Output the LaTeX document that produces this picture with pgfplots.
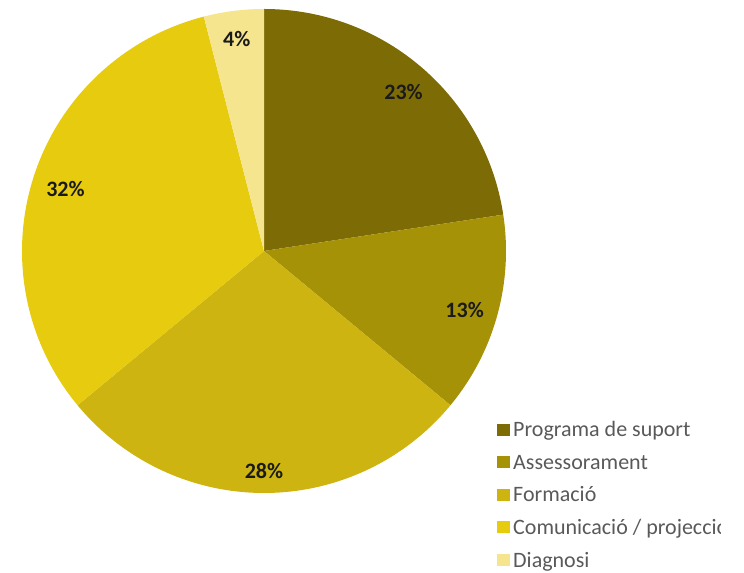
\documentclass[border=0pt]{standalone}
\usepackage{pgfplots}
\pgfplotsset{compat=1.18}
\usepackage{pgfplotstable}
\usepackage{fontspec}
\setmainfont{Carlito}

\definecolor{sliceA}{HTML}{7D6C06}
\definecolor{sliceB}{HTML}{A69207}
\definecolor{sliceC}{HTML}{CDB410}
\definecolor{sliceD}{HTML}{E6CB0F}
\definecolor{sliceE}{HTML}{F5E58E}
\definecolor{legendgrey}{HTML}{595959}
\definecolor{labelblack}{HTML}{1A1A1A}

% share of each slice (%), clockwise from 12 o'clock
\pgfplotstableread{
value colour
22.6  sliceA
13.4  sliceB
28.0  sliceC
32.0  sliceD
4.0   sliceE
}\piedata

\begin{document}
\begin{tikzpicture}
\begin{axis}[
  scale only axis,
  width=744bp, height=573bp,
  xmin=0, xmax=744, ymin=0, ymax=573,
  hide axis,
]
\pgfplotsextra{%
  \gdef\startang{90}%
  \foreach \i in {0,...,4}{%
    \pgfplotstablegetelem{\i}{value}\of\piedata \let\v\pgfplotsretval
    \pgfplotstablegetelem{\i}{colour}\of\piedata \let\c\pgfplotsretval
    \pgfmathsetmacro\endang{\startang-3.6*\v}%
    \pgfmathsetmacro\midang{(\startang+\endang)/2}%
    \pgfmathsetmacro\rr{205+12*abs(sin(\midang))}%
    \pgfmathtruncatemacro\lab{round(\v)}%
    \fill[\c] (axis cs:264,322) -- (axis cs:{264+242*cos(\startang)},{322+242*sin(\startang)})
      arc[start angle=\startang, end angle=\endang, radius=242bp] -- cycle;
    \node[text=labelblack, font=\fontsize{22bp}{26bp}\selectfont\bfseries]
      at (axis cs:{264+\rr*cos(\midang)},{319+\rr*sin(\midang)}) {\lab\%};
    \xdef\startang{\endang}%
  }%
  % legend, one row per slice (cut at the right like the source screenshot)
  \begin{scope}
  \clip (axis cs:0,0) rectangle (axis cs:720,573);
  \foreach \c/\t [count=\k from 0] in {sliceA/{Programa de suport},
      sliceB/{Assessorament}, sliceC/{Formació},
      sliceD/{Comunicació / projecció}, sliceE/{Diagnosi}}{%
    \pgfmathsetmacro\yb{573-437-32.5*\k}%
    \fill[\c] (axis cs:497,\yb+1) rectangle (axis cs:510,\yb+13);
    \node[anchor=base west, inner sep=0pt, text=legendgrey,
      font=\fontsize{22bp}{26bp}\selectfont] at (axis cs:513,\yb) {\t};
  }%
  \end{scope}
}
\end{axis}
\pgfresetboundingbox
\path[use as bounding box] (0,0) rectangle (744bp,573bp);
\end{tikzpicture}
\end{document}
